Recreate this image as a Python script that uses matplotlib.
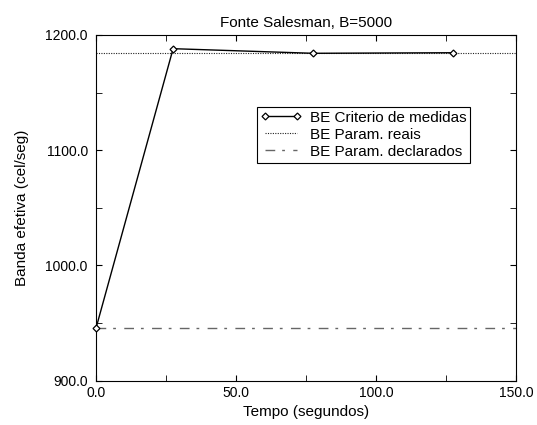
import matplotlib
matplotlib.use('Agg')
import matplotlib.pyplot as plt
from matplotlib.ticker import MultipleLocator, FormatStrFormatter

plt.rcParams['font.family'] = ['Liberation Sans', 'DejaVu Sans']

tempo = [0.0, 27.5, 77.5, 127.5]
be_medidas = [946.0, 1188.0, 1184.0, 1184.5]
be_reais = 1184.0
be_declarados = 946.0

fig = plt.figure(figsize=(5.37, 4.25), dpi=100)
ax = fig.add_axes([0.179, 0.104, 0.782, 0.814])

ax.plot(tempo, be_medidas, color='black', linewidth=1.0, marker='D', markersize=3.5,
        markerfacecolor='white', markeredgecolor='black', markeredgewidth=0.9,
        label='BE Criterio de medidas', clip_on=False, zorder=3)
ax.axhline(be_reais, color='#222222', linestyle=(0, (1, 1.2)), linewidth=0.8,
           label='BE Param. reais')
ax.axhline(be_declarados, color='#666666', linestyle=(0, (7, 5, 2, 6)), linewidth=1.0,
           label='BE Param. declarados')

ax.set_xlim(0, 150)
ax.set_ylim(900, 1200)
ax.xaxis.set_major_locator(MultipleLocator(50))
ax.xaxis.set_minor_locator(MultipleLocator(25))
ax.yaxis.set_major_locator(MultipleLocator(100))
ax.yaxis.set_minor_locator(MultipleLocator(50))
ax.xaxis.set_major_formatter(FormatStrFormatter('%.1f'))
ax.yaxis.set_major_formatter(FormatStrFormatter('%.1f'))
ax.tick_params(which='both', direction='in', top=True, right=True, labelsize=10)
ax.tick_params(axis='y', which='major', pad=6)
ax.tick_params(which='major', length=4)
ax.tick_params(which='minor', length=4)

ax.set_xlabel('Tempo (segundos)', fontsize=11, labelpad=4)
ax.set_ylabel('Banda efetiva (cel/seg)', fontsize=11, labelpad=12)
ax.set_title('Fonte Salesman, B=5000', fontsize=11, pad=6)

leg = ax.legend(loc='upper left', bbox_to_anchor=(0.383, 0.792), fontsize=11,
                frameon=True, fancybox=False, framealpha=1, edgecolor='black',
                numpoints=2, handlelength=2.7, handletextpad=0.5, borderpad=0.25,
                labelspacing=0.2, borderaxespad=0)
leg.get_frame().set_linewidth(0.8)

fig.savefig('out.png', dpi=100)
